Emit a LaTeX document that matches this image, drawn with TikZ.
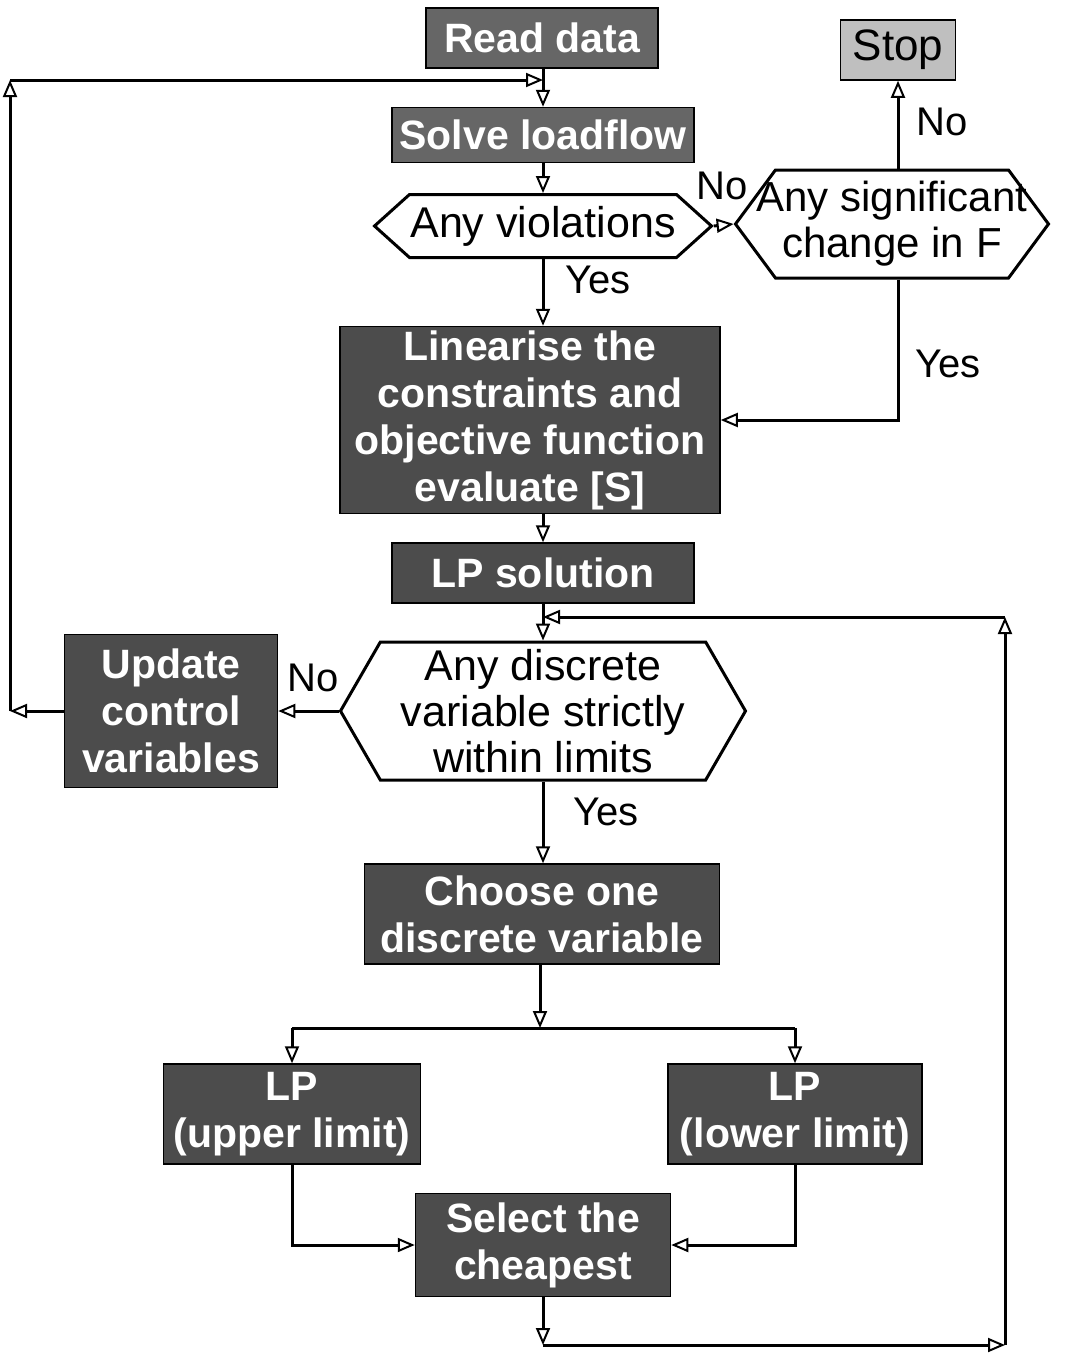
\documentclass[tikz,border=0pt]{standalone}
\usepackage{fontspec}
\setmainfont{Liberation Sans}
\usetikzlibrary{arrows.meta,shapes.symbols}

\tikzset{
  darkbox/.style={draw=black, line width=1.5pt, fill=black!70, text=white,
    font=\fontsize{41}{47}\selectfont\bfseries, align=center, inner sep=0pt},
  hexbox/.style={draw=black, line width=3pt, fill=white, signal, signal to=west and east,
    font=\fontsize{43}{46}\selectfont, align=center, inner sep=0pt},
  lbl/.style={font=\fontsize{40}{44}\selectfont, inner sep=0pt},
  flow/.style={line width=3pt, -{Triangle[open, length=17pt, width=14pt, line width=2pt]}},
  plain/.style={line width=3pt},
}

\begin{document}
\begin{tikzpicture}[x=1pt, y=-1pt]
  \useasboundingbox (0,0) rectangle (1081,1355);

  \node[darkbox, fill=black!60, minimum width=232, minimum height=60] (read) at (542,38) {Read data};
  \node[darkbox, fill=black!60, minimum width=302, minimum height=55] (solve) at (543,135) {Solve loadflow};
  \node[hexbox, minimum width=337, minimum height=63, signal pointer angle=84] (viol) at (543,226) {Any violations};
  \node[hexbox, inner xsep=-20pt, font=\fontsize{42}{46}\selectfont, minimum width=313, minimum height=108, signal pointer angle=107] (sig) at (892,224) {Any significant\\change in F};
  \node[draw=black, line width=1.5pt, fill=black!25, minimum width=115, minimum height=60,
    font=\fontsize{44}{48}\selectfont, inner sep=0pt] (stop) at (898,50) {Stop};
  \node[darkbox, minimum width=380, minimum height=187] (lin) at (530,420) {Linearise the\\constraints and\\objective function\\evaluate [S]};
  \node[darkbox, minimum width=302, minimum height=60] (lps) at (543,573) {LP solution};
  \node[hexbox, minimum width=405, minimum height=138, signal pointer angle=120] (disc) at (543,711) {Any discrete\\variable strictly\\within limits};
  \node[darkbox, minimum width=213, minimum height=153] (upd) at (171,711) {Update\\control\\variables};
  \node[darkbox, minimum width=355, minimum height=100] (choose) at (542,914) {Choose one\\discrete variable};
  \node[darkbox, minimum width=257, minimum height=100] (lpu) at (292,1114) {LP\\(upper limit)};
  \node[darkbox, minimum width=254, minimum height=100] (lpl) at (795,1114) {LP\\(lower limit)};
  \node[darkbox, minimum width=255, minimum height=103] (sel) at (543,1245) {Select the\\cheapest};

  \node[lbl] (no1) at (722,186) {No};
  \node[lbl] (no2) at (942,122) {No};
  \node[lbl] (yes1) at (598,280) {Yes};
  \node[lbl] (yes2) at (948,364) {Yes};
  \node[lbl] (no3) at (313,678) {No};
  \node[lbl] (yes3) at (606,812) {Yes};

  \coordinate (tl) at (10,80);
  \coordinate (bl) at (10,711);
  \coordinate (split) at (540,1028);
  \coordinate (bb) at (543,1345);
  \coordinate (br) at (1005,1345);
  \coordinate (tr) at (1005,617);

  % main line
  \draw[flow] (read.south -| solve.north) -- (solve.north);
  \draw[flow] (solve.south) -- (viol.north);
  \draw[flow] (viol.south) -- (viol.south |- lin.north);
  \draw[flow] (lps.north |- lin.south) -- (lps.north);
  \draw[flow] (lps.south) -- (disc.north);
  \draw[flow] (disc.south) -- (disc.south |- choose.north);

  % no violations
  \draw[flow] (viol.east) -- (sig.west);
  \draw[flow] (stop.south |- sig.north) -- (stop.south);
  \draw[flow] (stop.south |- sig.south) |- (lin.east);

  % update and loop back
  \draw[flow] (disc.west) -- (upd.east);
  \draw[flow] (upd.west) -- (bl);
  \draw[flow] (bl) -- (tl);
  \draw[flow] (tl) -- (tl -| solve.north);

  % branch
  \draw[flow] (choose.south -| split) -- (split);
  \draw[plain] (lpu.north |- split) -- (lpl.north |- split);
  \draw[flow] (lpu.north |- split) -- (lpu.north);
  \draw[flow] (lpl.north |- split) -- (lpl.north);
  \draw[flow] (lpu.south) |- (sel.west);
  \draw[flow] (lpl.south) |- (sel.east);

  % back to LP solution
  \draw[flow] (sel.south) -- (bb);
  \draw[flow] (bb) -- (br);
  \draw[flow] (br) -- (tr);
  \draw[flow] (tr) -- (tr -| lps.south);
\end{tikzpicture}
\end{document}
